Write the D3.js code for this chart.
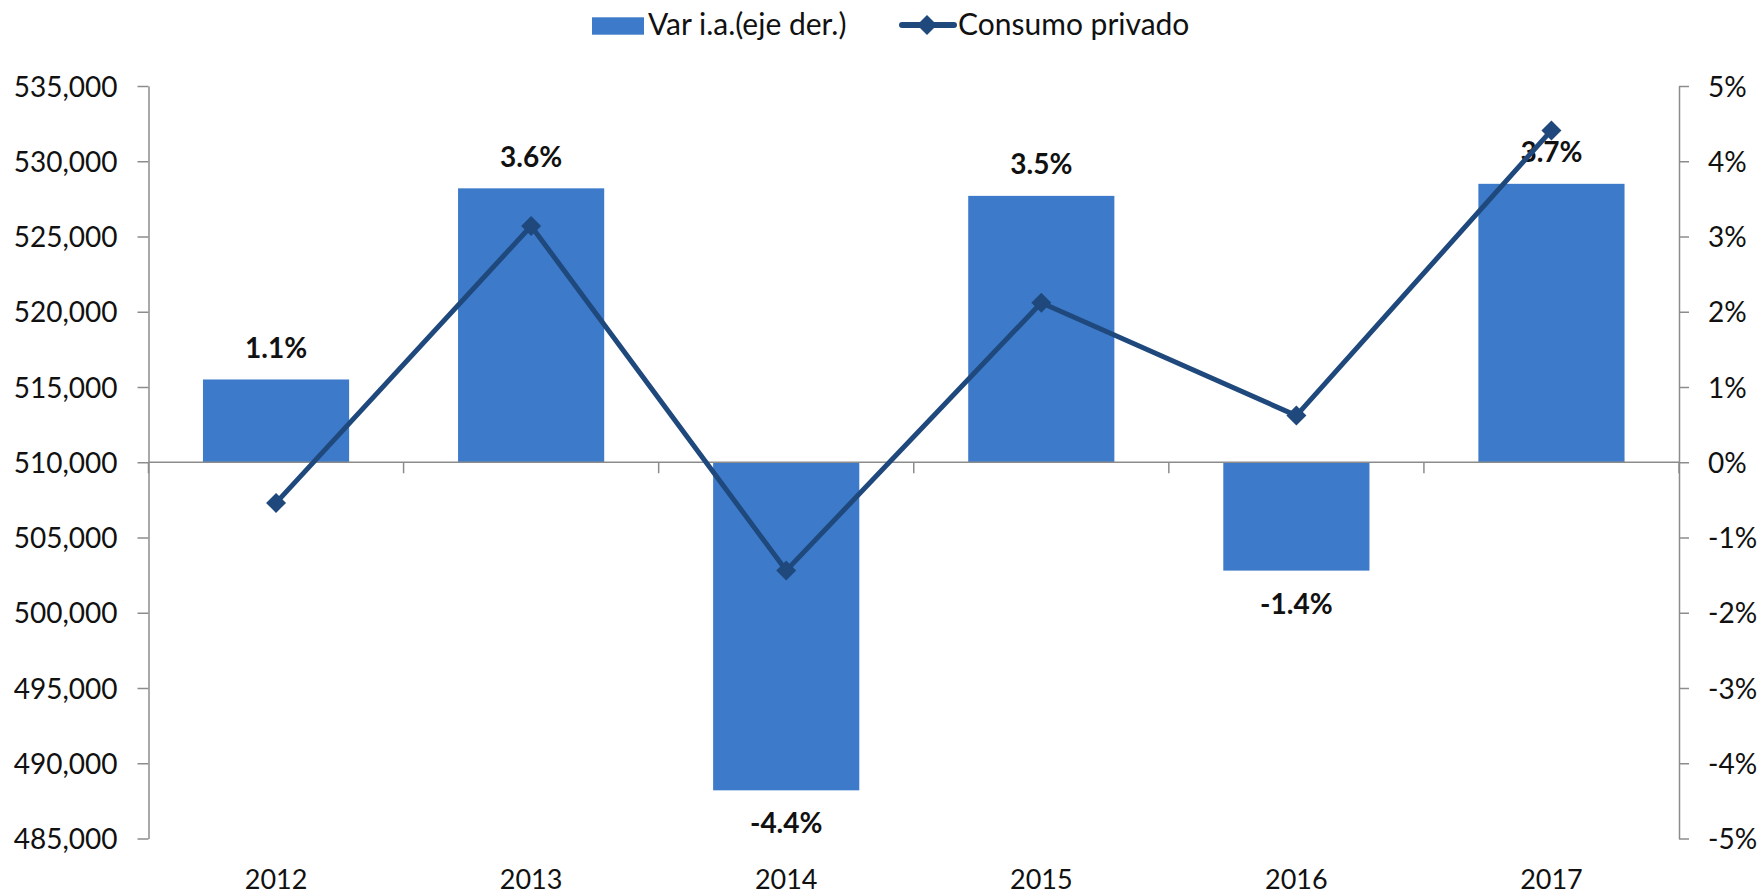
<!DOCTYPE html>
<html>
<head>
<meta charset="utf-8">
<script src="https://cdn.jsdelivr.net/npm/d3@7"></script>
<style>
  html, body { margin: 0; padding: 0; background: #ffffff; }
  svg { display: block; }
  text { font-family: Lato, "Open Sans", sans-serif; fill: #111111; }
</style>
</head>
<body>
<svg id="chart" width="1761" height="894"></svg>
<script>
// ---- data ----
const years = ["2012", "2013", "2014", "2015", "2016", "2017"];
const varIA = [1.1, 3.64, -4.36, 3.54, -1.44, 3.70];             // % (right axis)
const consumo = [507300, 525700, 502800, 520600, 513100, 532050]; // left axis
const leftTicks = [485000, 490000, 495000, 500000, 505000, 510000, 515000, 520000, 525000, 530000, 535000];
const rightTicks = [-5, -4, -3, -2, -1, 0, 1, 2, 3, 4, 5];
const seriesNames = ["Var i.a.(eje der.)", "Consumo privado"];

// ---- layout ----
const plot = { left: 148.5, right: 1679, top: 86, bottom: 838.5 };
const barColor = "#3D7BCA";
const lineColor = "#1F497D";
const axisColor = "#8C8C8C";

const svg = d3.select("#chart");

const x = d3.scaleBand().domain(years).range([plot.left, plot.right])
  .paddingInner(0.427).paddingOuter(0.2135);
const yL = d3.scaleLinear().domain([485000, 535000]).range([plot.bottom, plot.top]);
const yR = d3.scaleLinear().domain([-5, 5]).range([plot.bottom, plot.top]);

// bars
svg.append("g").selectAll("rect").data(years).join("rect")
  .attr("x", d => x(d))
  .attr("width", x.bandwidth())
  .attr("y", (d, i) => Math.min(yR(varIA[i]), yR(0)))
  .attr("height", (d, i) => Math.abs(yR(varIA[i]) - yR(0)))
  .attr("fill", barColor);

// left axis
const gL = svg.append("g").attr("transform", `translate(${plot.left},0)`)
  .call(d3.axisLeft(yL).tickValues(leftTicks).tickSize(11).tickSizeOuter(0).tickPadding(20)
    .tickFormat(d3.format(",")));
gL.select(".domain").attr("stroke", axisColor).attr("stroke-width", 1.5);
gL.selectAll(".tick line").attr("stroke", axisColor).attr("stroke-width", 1.5);
gL.selectAll(".tick text").attr("font-size", 28).attr("font-family", "Lato").attr("fill", "#111").attr("dy", "0.36em");

// right axis
const gR = svg.append("g").attr("transform", `translate(${plot.right},0)`)
  .call(d3.axisRight(yR).tickValues(rightTicks).tickSize(10).tickSizeOuter(0).tickPadding(19)
    .tickFormat(d => d + "%"));
gR.select(".domain").attr("stroke", axisColor).attr("stroke-width", 1.5);
gR.selectAll(".tick line").attr("stroke", axisColor).attr("stroke-width", 1.5);
gR.selectAll(".tick text").attr("font-size", 28).attr("font-family", "Lato").attr("fill", "#111").attr("dy", "0.36em");

// category axis at zero
const y0 = yR(0);
svg.append("line").attr("x1", plot.left).attr("x2", plot.right).attr("y1", y0).attr("y2", y0)
  .attr("stroke", axisColor).attr("stroke-width", 1.5);
const boundaries = d3.range(years.length + 1).map(i => plot.left + i * x.step());
svg.append("g").selectAll("line").data(boundaries).join("line")
  .attr("x1", d => d).attr("x2", d => d).attr("y1", y0).attr("y2", y0 + 11)
  .attr("stroke", axisColor).attr("stroke-width", 1.5);

// category labels
svg.append("g").selectAll("text").data(years).join("text")
  .attr("x", d => x(d) + x.bandwidth() / 2)
  .attr("y", 889)
  .attr("text-anchor", "middle")
  .attr("font-size", 27)
  .text(d => d);

// data labels
svg.append("g").selectAll("text").data(years).join("text")
  .attr("x", d => x(d) + x.bandwidth() / 2)
  .attr("y", (d, i) => varIA[i] >= 0 ? yR(varIA[i]) - 21.7 : yR(varIA[i]) + 43)
  .attr("text-anchor", "middle")
  .attr("font-size", 28)
  .attr("font-weight", "bold")
  .text((d, i) => varIA[i].toFixed(1) + "%");

// line
const line = d3.line().x((d, i) => x(years[i]) + x.bandwidth() / 2).y(d => yL(d));
svg.append("path").datum(consumo).attr("d", line)
  .attr("fill", "none").attr("stroke", lineColor).attr("stroke-width", 5)
  .attr("stroke-linejoin", "round");
const diamond = d3.symbol().type(d3.symbolSquare).size(200);
svg.append("g").selectAll("path").data(consumo).join("path")
  .attr("d", diamond)
  .attr("transform", (d, i) => `translate(${x(years[i]) + x.bandwidth() / 2},${yL(d)}) rotate(45)`)
  .attr("fill", lineColor);

// legend
const lg = svg.append("g");
lg.append("rect").attr("x", 592).attr("y", 17.3).attr("width", 52).attr("height", 17.4).attr("fill", barColor);
lg.append("text").attr("x", 648).attr("y", 34.7).attr("font-size", 30).text(seriesNames[0]);
lg.append("line").attr("x1", 902).attr("x2", 954).attr("y1", 25).attr("y2", 25)
  .attr("stroke", lineColor).attr("stroke-width", 6).attr("stroke-linecap", "round");
lg.append("path").attr("d", diamond).attr("transform", "translate(927,25) rotate(45)").attr("fill", lineColor);
lg.append("text").attr("x", 958).attr("y", 34.7).attr("font-size", 30).text(seriesNames[1]);
</script>
</body>
</html>
